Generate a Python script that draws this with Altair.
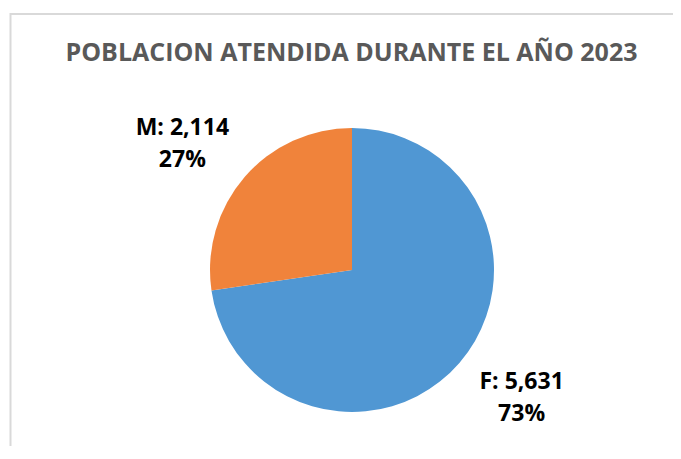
import altair as alt
import pandas as pd

categories = ["F", "M"]
values = [5631, 2114]
colors = ["#5097D3", "#F0833B"]
title_text = "POBLACION ATENDIDA DURANTE EL AÑO 2023"

total = sum(values)
labels = [f"{c}: {v:,}\n{round(v / total * 100)}%" for c, v in zip(categories, values)]
df = pd.DataFrame({"cat": categories, "val": values, "order": [0, 1], "label": labels})

cx, cy = 344, 262
base = alt.Chart(df)

pie = base.mark_arc(outerRadius=142, stroke=None).encode(
    theta=alt.Theta("val:Q", stack=True),
    order=alt.Order("order:Q"),
    color=alt.Color("cat:N", scale=alt.Scale(domain=categories, range=colors), legend=None),
    x=alt.value(cx),
    y=alt.value(cy),
)

text = base.mark_text(
    radius=212, thetaOffset=-0.07, font="Open Sans", fontWeight="bold", fontSize=23,
    lineBreak="\n", lineHeight=32, color="#000000", align="center", baseline="middle", dy=-15,
).encode(
    theta=alt.Theta("val:Q", stack=True),
    order=alt.Order("order:Q"),
    text="label:N",
    x=alt.value(cx),
    y=alt.value(cy),
)

frame = alt.Chart(pd.DataFrame({"b": [0]})).mark_rect(
    fill="transparent", stroke="#D9D9D9", strokeWidth=2
).encode(
    x=alt.value(2.5), x2=alt.value(720), y=alt.value(6), y2=alt.value(520)
)

chart = alt.layer(frame, pie, text).properties(
    width=665, height=438, padding=0, autosize="none",
    title=alt.TitleParams(title_text, font="Open Sans", fontSize=25, fontWeight="bold",
                          color="#595959", anchor="middle", offset=-58, dx=11),
).configure_view(stroke=None)

chart.save("out.html", embed_options={"renderer": "svg", "actions": False})
